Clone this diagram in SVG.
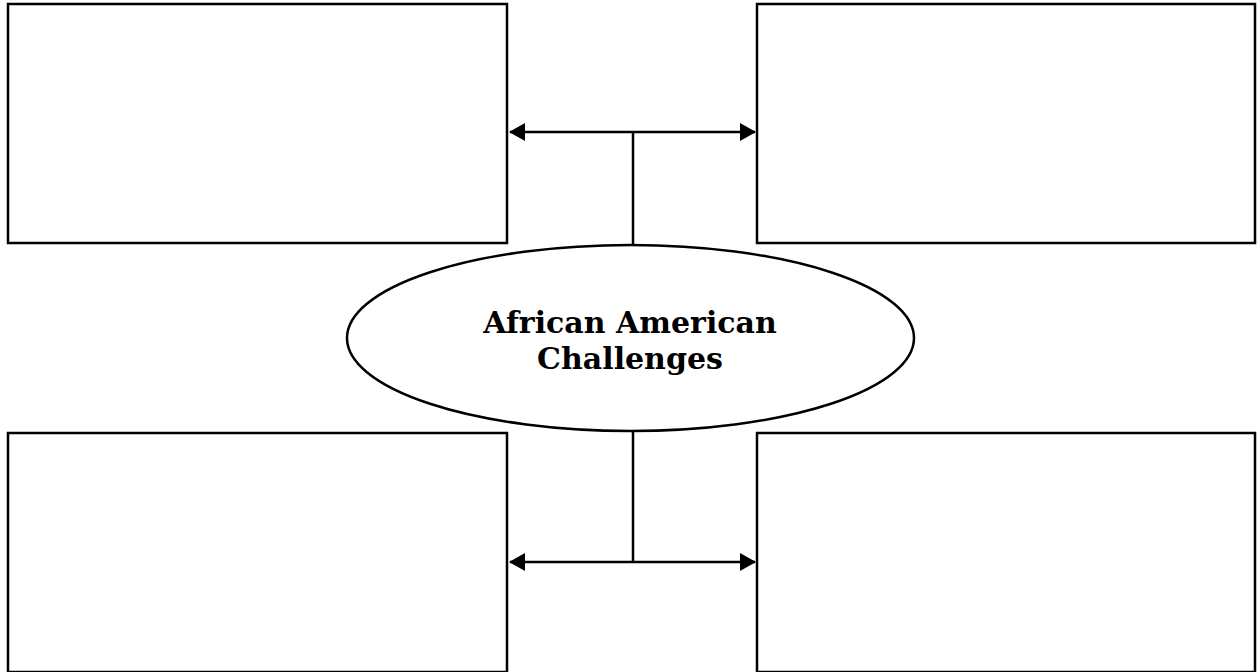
<svg xmlns="http://www.w3.org/2000/svg" width="1258" height="672" viewBox="0 0 1258 672">
<style>
.box{fill:#fff;stroke:#000;stroke-width:2.5}
.ln{fill:none;stroke:#000;stroke-width:2.5}
.lbl{font-family:"DejaVu Serif","Liberation Serif",serif;font-weight:bold;font-size:30px;fill:#000;text-anchor:middle}
</style>
<defs>
<marker id="ah" viewBox="0 0 16 18" refX="15" refY="9" markerWidth="16" markerHeight="18" markerUnits="userSpaceOnUse" orient="auto-start-reverse">
<path d="M0,0 L16,9 L0,18 Z" fill="#000"/>
</marker>
</defs>
<rect width="1258" height="672" fill="#fff"/>
<g id="box-top-left"><rect class="box" x="8" y="4" width="499" height="239"/></g>
<g id="box-top-right"><rect class="box" x="757" y="4" width="498" height="239"/></g>
<g id="box-bottom-left"><rect class="box" x="8" y="433" width="499" height="239"/></g>
<g id="box-bottom-right"><rect class="box" x="757" y="433" width="498" height="239"/></g>
<g id="connectors">
<line class="ln" x1="510" y1="132" x2="755" y2="132" marker-start="url(#ah)" marker-end="url(#ah)"/>
<line class="ln" x1="633" y1="132" x2="633" y2="245"/>
<line class="ln" x1="510" y1="562" x2="755" y2="562" marker-start="url(#ah)" marker-end="url(#ah)"/>
<line class="ln" x1="633" y1="431" x2="633" y2="562"/>
</g>
<g id="center">
<ellipse class="box" cx="630.5" cy="338" rx="283.5" ry="93"/>
<text class="lbl" x="630" y="333">African American</text>
<text class="lbl" x="630" y="369">Challenges</text>
</g>
</svg>
